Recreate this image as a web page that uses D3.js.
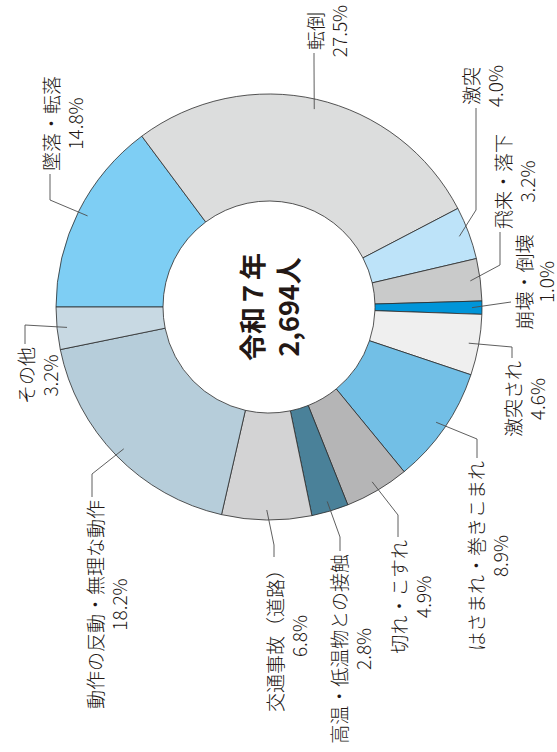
<!DOCTYPE html>
<html>
<head>
<meta charset="utf-8">
<script src="https://cdn.jsdelivr.net/npm/d3@7"></script>
<style>
  html, body { margin: 0; padding: 0; background: #fff; }
  svg { display: block; }
  text { font-family: "Noto Sans CJK JP", "Noto Sans", sans-serif; fill: #231815; }
</style>
</head>
<body>
<svg id="chart" width="557" height="752"></svg>
<script>
// Share of occupational accidents by type (令和7年, 2,694人)
const categories = [
  "墜落・転落", "転倒", "激突", "飛来・落下", "崩壊・倒壊", "激突され",
  "はさまれ・巻きこまれ", "切れ・こすれ", "高温・低温物との接触",
  "交通事故（道路）", "動作の反動・無理な動作", "その他"
];
const shares = [14.8, 27.5, 4.0, 3.2, 1.0, 4.6, 8.9, 4.9, 2.8, 6.8, 18.2, 3.2];
const sliceColors = [
  "#7ecef4", "#dcdddd", "#bde3f9", "#c9caca", "#0095d9", "#efefef",
  "#72bfe6", "#b5b5b6", "#4a8199", "#d3d3d4", "#b6cdda", "#c8d9e3"
];
const centerLines = ["令和７年", "2,694人"];

// Leader-line layout in page coordinates (x, y); the chart itself is drawn turned
// a quarter turn counter-clockwise, so these are converted into the chart frame.
const labelLayout = [
  { elbow: [50, 200],  end: [50, 174],  side: "start" },
  { elbow: [314, 62],  end: [314, 53],  side: "start" },
  { elbow: [476, 210], end: [476, 108], side: "start", shift: -6 },
  { elbow: [500, 265], end: [500, 232], side: "start", shift: 2 },
  { elbow: null,       end: [511, 302], side: "middle", text: [523, 282], gap: 22 },
  { elbow: [512, 347], end: [512, 358], side: "end" },
  { elbow: [477, 439], end: [477, 458], side: "end", shift: -2 },
  { elbow: [398, 515], end: [398, 537], side: "end" },
  { elbow: [340, 537], end: [340, 551], side: "end", shift: -2 },
  { elbow: [274, 545], end: [274, 557], side: "end" },
  { elbow: [92, 474],  end: [92, 497],  side: "end", shift: 2 },
  { elbow: [25, 325],  end: [25, 344],  side: "end" }
];

const W = 557, H = 752;
const FRAME_W = H;              // chart frame width after the quarter turn
const cx = 445, cy = 269;       // donut centre in the chart frame
const outerR = 213, innerR = 106, leaderR = 203;
const fontSize = 19, lineGap = 24, textGap = 3;

const svg = d3.select("#chart");
svg.append("rect").attr("width", W).attr("height", H).attr("fill", "#fff");

const frame = svg.append("g")
  .attr("transform", `translate(0,${H}) rotate(-90)`);

// page (x, y) -> chart frame (u, v)
const toFrame = ([x, y]) => [FRAME_W - y, x];

const data = categories.map((name, i) => ({ name, value: shares[i], color: sliceColors[i], layout: labelLayout[i] }));

const pie = d3.pie().sort(null).value(d => d.value);
const arcs = pie(data);

const arc = d3.arc().innerRadius(innerR).outerRadius(outerR);
const leaderArc = d3.arc().innerRadius(leaderR).outerRadius(leaderR);

const donut = frame.append("g").attr("transform", `translate(${cx},${cy})`);

donut.selectAll("path.slice")
  .data(arcs)
  .join("path")
  .attr("class", "slice")
  .attr("d", arc)
  .attr("fill", d => d.data.color)
  .attr("stroke", "#2b2b2b")
  .attr("stroke-width", 0.8)
  .attr("stroke-linejoin", "round");

// Leader lines
const lineGen = d3.line();
frame.selectAll("path.leader")
  .data(arcs)
  .join("path")
  .attr("class", "leader")
  .attr("fill", "none")
  .attr("stroke", "#4d4d4d")
  .attr("stroke-width", 0.9)
  .attr("d", d => {
    const c = leaderArc.centroid(d);
    const pts = [[cx + c[0], cy + c[1]]];
    const L = d.data.layout;
    if (L.elbow) pts.push(toFrame(L.elbow));
    pts.push(toFrame(L.end));
    return lineGen(pts);
  });

// Labels: category name and percentage, the second line centred on the first
const labels = frame.selectAll("g.label")
  .data(arcs)
  .join("g")
  .attr("class", "label");

labels.each(function(d) {
  const g = d3.select(this);
  const L = d.data.layout;
  const t1 = g.append("text")
    .attr("font-size", fontSize)
    .attr("font-weight", 300)
    .attr("dominant-baseline", "central")
    .attr("text-anchor", "middle")
    .text(d.data.name);
  const w1 = t1.node().getComputedTextLength();
  let uc, v;
  if (L.side === "middle") {
    [uc, v] = toFrame(L.text);
  } else {
    const [ue, ve] = toFrame(L.end);
    v = ve + (L.shift || 0);
    uc = L.side === "start" ? ue + textGap + w1 / 2 : ue - textGap - w1 / 2;
  }
  t1.attr("x", uc).attr("y", v);
  g.append("text")
    .attr("font-size", fontSize)
    .attr("font-weight", 300)
    .attr("dominant-baseline", "central")
    .attr("text-anchor", "middle")
    .attr("x", uc)
    .attr("y", v + (L.gap || lineGap))
    .text(d3.format(".1f")(d.data.value) + "%");
});

// Centre caption
frame.append("g")
  .selectAll("text")
  .data(centerLines)
  .join("text")
  .attr("x", cx)
  .attr("y", (d, i) => cy + (i - 0.5) * 36)
  .attr("text-anchor", "middle")
  .attr("dominant-baseline", "central")
  .attr("font-size", 27)
  .attr("font-weight", 700)
  .text(d => d);
</script>
</body>
</html>
